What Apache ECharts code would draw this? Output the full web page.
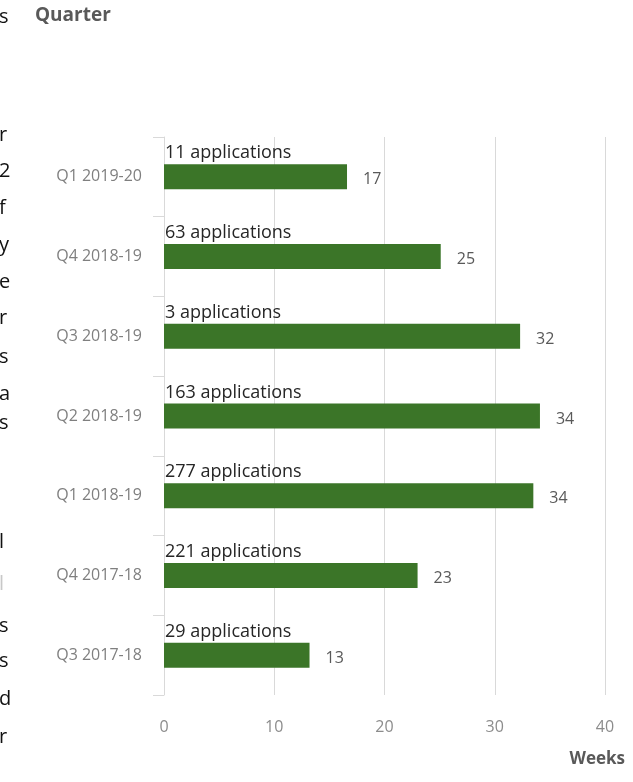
<!DOCTYPE html>
<html>
<head>
<meta charset="utf-8">
<script src="https://cdn.jsdelivr.net/npm/echarts@6/dist/echarts.min.js"></script>
<style>
html,body{margin:0;padding:0;background:#fff;}
#chart{width:633px;height:782px;}
</style>
</head>
<body>
<div id="chart"></div>
<script>
// Data (top to bottom)
const categories = ['Q1 2019-20','Q4 2018-19','Q3 2018-19','Q2 2018-19','Q1 2018-19','Q4 2017-18','Q3 2017-18'];
const weeks = [16.6, 25.1, 32.3, 34.1, 33.5, 23.0, 13.2];
const applications = [11, 63, 3, 163, 277, 221, 29];
const xTicks = [0, 10, 20, 30, 40];
// cropped fragments of surrounding document text at left edge
const edgeChars = ['s','r','2','f','y','e','r','s','a','s','l','l','s','s','d','r'];
const edgeRows =  [20, 138, 174, 211, 248, 285, 321, 360, 397, 426, 545, 587, 629, 664, 702, 740];
const edgeFaint = [false,false,false,false,false,false,false,false,false,false,false,true,false,false,false,false];

const FONT = '"Open Sans", "Noto Sans", sans-serif';
const chart = echarts.init(document.getElementById('chart'), null, {renderer:'canvas'});

const graphics = edgeChars.map((c, i) => ({
  type: 'text', left: -1, top: edgeRows[i] - 13,
  style: { text: c, font: '20px ' + FONT, fill: edgeFaint[i] ? '#c8c8c8' : '#111' }
}));
graphics.push({ type:'text', left: 35, top: 6, style:{ text:'Quarter', font:'bold 19px ' + FONT, fill:'#595959' }});
graphics.push({ type:'text', right: 8, top: 751, style:{ text:'Weeks', font:'bold 17px ' + FONT, fill:'#595959' }});

chart.setOption({
  animation: false,
  grid: { left: 164, right: 28, top: 137, bottom: 87, containLabel: false },
  graphic: graphics,
  xAxis: {
    type: 'value', min: 0, max: 40, interval: 10,
    axisLine: { show: false }, axisTick: { show: false },
    splitLine: { show: true, lineStyle: { color: '#d9d9d9', width: 1 } },
    axisLabel: { color: '#8c8c8c', fontSize: 16, fontFamily: FONT, margin: 24,
      formatter: v => xTicks.includes(v) ? String(v) : '' }
  },
  yAxis: {
    type: 'category', data: categories, inverse: true,
    axisLine: { show: true, lineStyle: { color: '#d9d9d9' } },
    axisTick: { show: true, length: 11, lineStyle: { color: '#d9d9d9' } },
    axisLabel: { color: '#7f7f7f', fontSize: 16, fontFamily: FONT, margin: 22 }
  },
  series: [
    {
      type: 'bar', data: weeks, barWidth: 25,
      itemStyle: { color: '#3b7528' },
      label: { show: true, position: 'right', distance: 16, color: '#595959',
        fontSize: 16, fontFamily: FONT, offset: [0, 3], formatter: p => Math.round(p.value) }
    },
    {
      type: 'bar', data: weeks, barWidth: 25, barGap: '-100%', silent: true,
      itemStyle: { color: 'rgba(0,0,0,0)' },
      label: { show: true, position: [1, -20], color: '#262626',
        fontSize: 18, fontFamily: FONT,
        formatter: p => applications[p.dataIndex] + ' applications' }
    }
  ]
});
</script>
</body>
</html>
